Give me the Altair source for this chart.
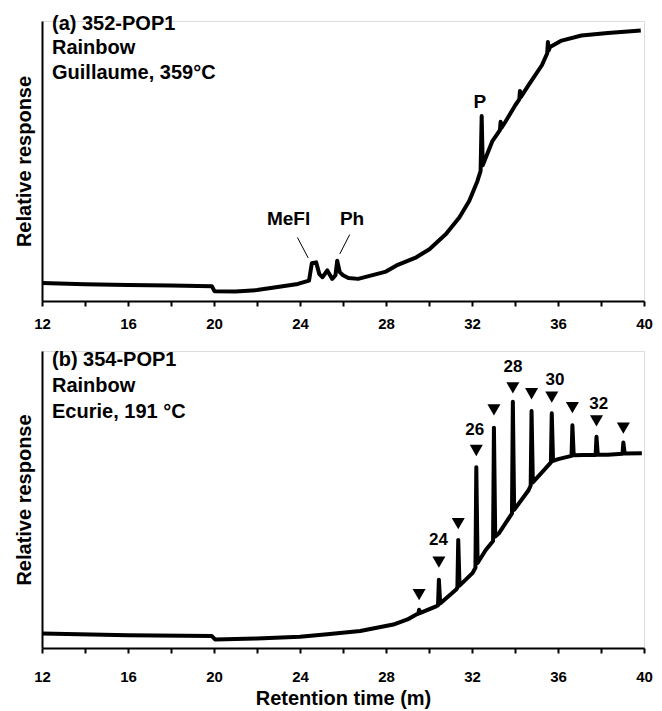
import altair as alt
import pandas as pd

FONT = "Liberation Sans"

# ---------------- Panel (a) ----------------
a_time = [12.0, 14.0, 16.0, 18.0, 19.9, 20.02, 21.0, 22.0, 22.96, 23.9, 24.42,
          24.55, 24.75, 24.9, 25.05, 25.27, 25.5, 25.65, 25.73, 25.85, 26.0,
          26.25, 26.7, 27.6, 28.0, 28.49, 29.41, 30.02, 30.79, 31.41, 31.87,
          32.25, 32.4, 32.45, 32.5, 32.94, 33.3, 33.33, 33.37, 33.56, 34.02,
          34.2, 34.23, 34.27, 34.63, 35.25, 35.5, 35.53, 35.57, 35.63, 36.17,
          37.09, 38.32, 39.85]
a_resp = [6.4, 6.0, 5.7, 5.5, 5.3, 3.5, 3.4, 3.9, 5.0, 6.1, 7.3,
          13.5, 13.8, 9.6, 8.5, 10.9, 7.9, 9.2, 14.4, 10.3, 9.2,
          8.2, 7.9, 9.7, 10.5, 12.7, 15.6, 18.5, 23.9, 29.8, 35.7,
          42.8, 46.5, 66.1, 48.5, 57.0, 61.0, 64.0, 61.8, 64.1, 70.0,
          72.0, 75.0, 72.8, 77.1, 84.2, 88.5, 92.5, 89.5, 90.7, 93.0,
          94.8, 95.7, 96.6]

a_info = ["(a) 352-POP1", "Rainbow", "Guillaume, 359°C"]

a_peak_names = ["MeFl", "Ph", "P"]
a_peak_label_x = [23.47, 26.42, 32.37]
a_peak_label_y = [27.2, 27.2, 68.8]

a_lead_x = [23.88, 26.31]
a_lead_y = [22.7, 23.7]
a_lead_x2 = [24.38, 25.85]
a_lead_y2 = [15.4, 16.8]

# ---------------- Panel (b) ----------------
b_time = [12.0, 16.0, 19.9, 20.05, 22.0, 24.0, 25.27, 26.8, 28.34, 29.0, 29.41,
          29.5, 29.54, 29.6, 30.33,
          30.42, 30.46, 30.52, 31.25,
          31.32, 31.36, 31.42, 32.02,
          32.16, 32.2, 32.26, 32.64,
          32.98, 33.02, 33.08, 33.25,
          33.86, 33.9, 33.96, 34.63,
          34.73, 34.77, 34.83, 35.4,
          35.67, 35.71, 35.77, 36.01,
          36.63, 36.67, 36.73, 37.2,
          37.75, 37.79, 37.85, 38.32,
          39.0, 39.04, 39.1, 39.9]
b_resp = [4.9, 4.3, 4.0, 2.9, 3.2, 3.8, 4.6, 5.7, 7.9, 9.6, 11.3,
          11.5, 12.9, 11.8, 14.0,
          14.4, 23.0, 15.0, 19.6,
          20.3, 36.4, 21.0, 25.2,
          27.0, 60.9, 28.6, 33.0,
          36.0, 74.2, 37.5, 38.6,
          45.3, 82.9, 46.5, 53.1,
          54.7, 79.8, 55.8, 60.3,
          62.5, 79.0, 63.0, 63.6,
          64.7, 75.0, 64.9, 65.0,
          65.0, 71.1, 65.1, 65.1,
          65.4, 69.2, 65.5, 65.6]

b_info = ["(b) 354-POP1", "Rainbow", "Ecurie, 191 °C"]

b_marker_x = [29.54, 30.46, 31.36, 32.2, 33.02, 33.9, 34.77, 35.71, 36.67, 37.79, 39.04]
b_marker_y = [18.0, 28.9, 41.9, 66.5, 80.2, 87.6, 85.6, 84.5, 80.9, 76.5, 74.0]

b_num_labels = ["24", "26", "28", "30", "32"]
b_num_x = [30.44, 32.13, 33.91, 35.86, 37.89]
b_num_y = [36.4, 73.4, 94.6, 90.4, 82.3]

x_ticks = list(range(12, 41, 2))

# ---------------- helpers ----------------
xscale = alt.Scale(domain=[12, 40], nice=False, zero=False)
yscale = alt.Scale(domain=[0, 100], nice=False, zero=False)


def x_axis(title, label_pad):
    kw = dict(values=x_ticks,
              labelExpr="datum.value % 4 == 0 ? datum.label : ''",
              labelFlush=False,
              tickSize=5, tickWidth=2, tickColor="black",
              domainWidth=2, domainColor="black",
              labelFont=FONT, labelFontSize=15, labelFontWeight="bold",
              labelColor="black", labelPadding=label_pad, grid=False,
              titleFont=FONT, titleFontSize=20, titleFontWeight="bold",
              titleColor="black", titlePadding=4)
    if title:
        return alt.Axis(title=title, **kw)
    return alt.Axis(title=None, **kw)


y_axis = alt.Axis(title="Relative response", ticks=False, labels=False,
                  grid=False, domainWidth=2, domainColor="black",
                  titleFont=FONT, titleFontSize=20, titleFontWeight="bold",
                  titleColor="black", titlePadding=8)


def trace(df, title, label_pad):
    return alt.Chart(df).mark_line(color="black", strokeWidth=4,
                                   strokeJoin="round").encode(
        x=alt.X("t:Q", scale=xscale, axis=x_axis(title, label_pad)),
        y=alt.Y("r:Q", scale=yscale, axis=y_axis),
        order="i:Q",
    )


def info_line(txt, ypix):
    return alt.Chart(pd.DataFrame({"k": [0]})).mark_text(
        align="left", baseline="alphabetic", font=FONT, fontSize=20,
        fontWeight="bold", color="black",
    ).encode(x=alt.value(10), y=alt.value(ypix), text=alt.value(txt))


# ---------------- Panel (a) chart ----------------
df_a = pd.DataFrame({"t": a_time, "r": a_resp, "i": range(len(a_time))})
line_a = trace(df_a, None, 10)

lab_a = alt.Chart(pd.DataFrame({"x": a_peak_label_x, "y": a_peak_label_y,
                                "s": a_peak_names})).mark_text(
    align="center", baseline="alphabetic", font=FONT, fontSize=19,
    fontWeight="bold", color="black").encode(
    x=alt.X("x:Q", scale=xscale), y=alt.Y("y:Q", scale=yscale), text="s:N")

lead_a = alt.Chart(pd.DataFrame({"x": a_lead_x, "y": a_lead_y,
                                 "x2": a_lead_x2, "y2": a_lead_y2})).mark_rule(
    color="black", strokeWidth=1).encode(
    x=alt.X("x:Q", scale=xscale), y=alt.Y("y:Q", scale=yscale),
    x2="x2:Q", y2="y2:Q")

panel_a = alt.layer(line_a, lead_a, lab_a,
                    info_line(a_info[0], 9), info_line(a_info[1], 33),
                    info_line(a_info[2], 58)).properties(width=602, height=280)

# ---------------- Panel (b) chart ----------------
df_b = pd.DataFrame({"t": b_time, "r": b_resp, "i": range(len(b_time))})
line_b = trace(df_b, "Retention time (m)", 16)

tri_b = alt.Chart(pd.DataFrame({"x": b_marker_x, "y": b_marker_y})).mark_point(
    shape="triangle-down", filled=True, color="black", size=170, opacity=1).encode(
    x=alt.X("x:Q", scale=xscale), y=alt.Y("y:Q", scale=yscale))

num_b = alt.Chart(pd.DataFrame({"x": b_num_x, "y": b_num_y,
                                "s": b_num_labels})).mark_text(
    align="center", baseline="middle", font=FONT, fontSize=17,
    fontWeight="bold", color="black").encode(
    x=alt.X("x:Q", scale=xscale), y=alt.Y("y:Q", scale=yscale), text="s:N")

panel_b = alt.layer(line_b, tri_b, num_b,
                    info_line(b_info[0], 15), info_line(b_info[1], 41),
                    info_line(b_info[2], 67)).properties(width=602, height=297)

chart = alt.vconcat(panel_a, panel_b, spacing=17).properties(
    padding={"left": 5, "top": 5, "right": 0, "bottom": 0}
).configure_view(stroke=None).configure(background="white")

chart.save("out.html", embed_options={"renderer": "svg", "actions": False})
